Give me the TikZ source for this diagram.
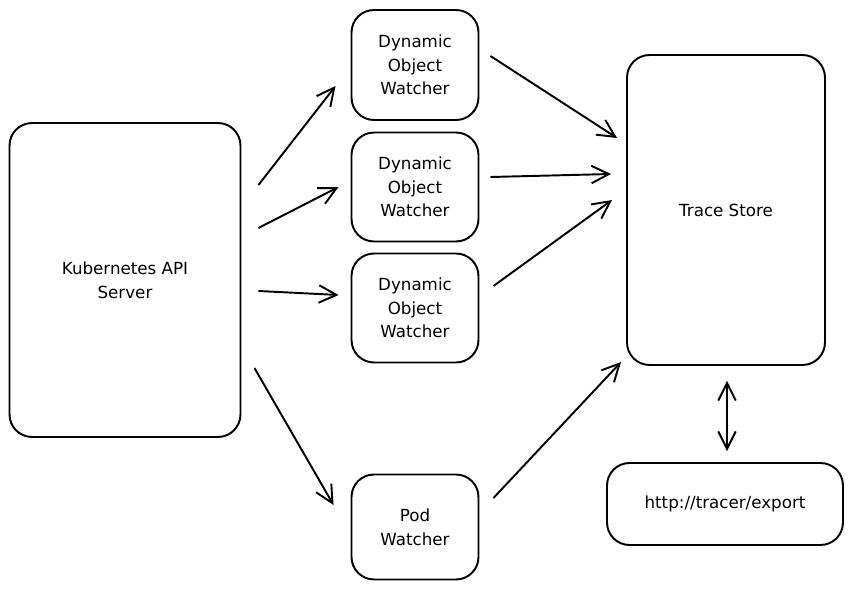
\documentclass[tikz,border=0pt]{standalone}
\usepackage{fontspec}
\setmainfont{DejaVu Sans}
\usetikzlibrary{arrows, arrows.meta, positioning, calc}

\begin{document}
\begin{tikzpicture}[
   x=0.02cm, y=-0.02cm,
   box/.style = {draw, rectangle, rounded corners=0.45cm, line width=1.1pt, align=center, font=\fontsize{9.5}{13.5}\selectfont},
   line/.style = {draw, -{Straight Barb[length=3.5mm,width=3.5mm]}, line width=1.1pt},
   dline/.style = {draw, {Straight Barb[length=3.5mm,width=3.5mm]}-{Straight Barb[length=3.5mm,width=3.5mm]}, line width=1.1pt}
   ]
  \useasboundingbox (0,0) rectangle (853,591);

  % Source
  \node[box, minimum width=4.62cm, minimum height=6.28cm] (k8s) at (125,280) {Kubernetes API\\Server};

  % Watchers
  \node[box, minimum width=2.54cm, minimum height=2.2cm] (dow1) at (415,65) {Dynamic\\Object\\Watcher};
  \node[box, minimum width=2.54cm, minimum height=2.18cm] (dow2) at (415,187) {Dynamic\\Object\\Watcher};
  \node[box, minimum width=2.54cm, minimum height=2.18cm] (dow3) at (415,308) {Dynamic\\Object\\Watcher};
  \node[box, minimum width=2.54cm, minimum height=2.1cm] (pod) at (415,527) {Pod\\Watcher};

  % Store and export
  \node[box, minimum width=3.96cm, minimum height=6.2cm] (store) at (726,210) {Trace Store};
  \node[box, minimum width=4.72cm, minimum height=1.64cm] (export) at (725,504) {http://tracer/export};

  % Arrows
  \draw[line] ($(k8s.east)+(17,-95)$) -- ($(dow1.west)+(-15,21)$);
  \draw[line] ($(k8s.east)+(17,-52)$) -- ($(dow2.west)+(-12,0)$);
  \draw[line] ($(k8s.east)+(17,11)$) -- ($(dow3.west)+(-12,-13)$);
  \draw[line] ($(k8s.east)+(13,88)$) -- ($(pod.west)+(-17,-22)$);
  \draw[line] ($(dow1.east)+(11,-9)$) -- ($(store.west)+(-9,-72)$);
  \draw[line] ($(dow2.east)+(11,-10)$) -- ($(store.west)+(-15,-36)$);
  \draw[line] ($(dow3.east)+(14,-22)$) -- ($(store.west)+(-14,-10)$);
  \draw[line] ($(pod.east)+(14,-29)$) -- ($(store.west)+(-5,152)$);
  \draw[dline] ($(store.south)+(1,15)$) -- ($(export.north)+(2,-11)$);
\end{tikzpicture}
\end{document}
